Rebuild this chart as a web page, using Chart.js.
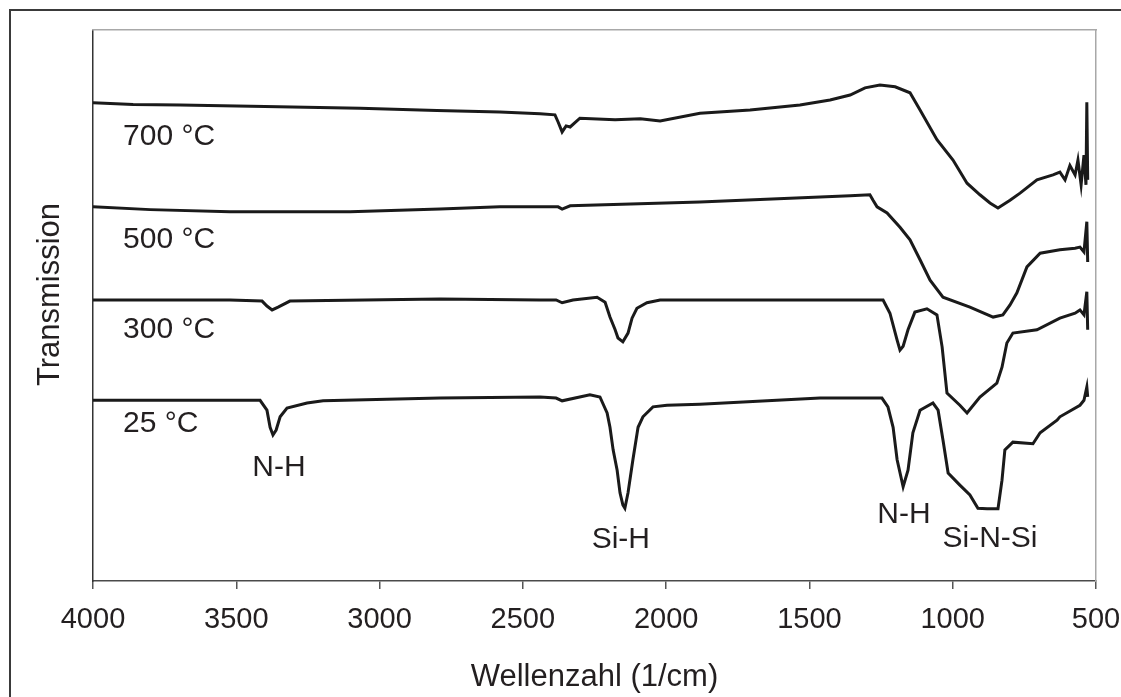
<!DOCTYPE html>
<html>
<head>
<meta charset="utf-8">
<script src="https://cdn.jsdelivr.net/npm/chart.js@4.4.1/dist/chart.umd.min.js"></script>
<style>
  html, body { margin: 0; padding: 0; background: #ffffff; overflow: hidden; }
  #wrap { position: relative; width: 1121px; height: 697px; }
  #frame { position: absolute; left: 9px; top: 9px; width: 2000px; height: 2000px;
           border-left: 2px solid #3a3a3a; border-top: 2px solid #3a3a3a; pointer-events: none; }
  canvas { position: absolute; left: 0; top: 0; }
</style>
</head>
<body>
<div id="wrap">
  <div id="frame"></div>
  <canvas id="c" width="1121" height="697"></canvas>
</div>
<script>
// ---- data (wavenumber in 1/cm, transmission in arbitrary units) ----
const sampleNames = ['25 °C', '300 °C', '500 °C', '700 °C'];

const wn700 = [4000, 3860, 3696, 3400, 3068, 2800, 2580, 2440, 2388, 2377, 2363, 2349, 2335, 2301, 2178, 2090, 2021, 1882, 1707, 1533, 1428, 1358, 1306, 1254, 1201, 1149, 1114, 1055, 999, 950, 905, 870, 842, 800, 765, 706, 650, 626, 608, 591, 573, 563, 552, 542, 535, 532, 529];
const tr700 = [86.8, 86.5, 86.4, 86.1, 85.8, 85.4, 85.1, 84.8, 84.6, 83.3, 81.5, 82.6, 82.4, 84.0, 83.7, 83.9, 83.5, 84.9, 85.5, 86.4, 87.3, 88.2, 89.5, 90.0, 89.7, 88.6, 85.5, 80.1, 76.4, 72.2, 70.1, 68.6, 67.7, 69.1, 70.4, 72.8, 73.7, 74.2, 72.8, 75.4, 73.7, 76.4, 71.9, 77.3, 71.9, 86.9, 72.8];

const wn500 = [4000, 3800, 3522, 3103, 2789, 2580, 2377, 2363, 2335, 1882, 1358, 1289, 1278, 1264, 1229, 1184, 1149, 1114, 1079, 1034, 940, 859, 825, 800, 776, 741, 695, 626, 573, 556, 542, 532, 529];
const tr500 = [67.9, 67.4, 67.0, 67.0, 67.5, 67.9, 67.9, 67.5, 68.1, 68.8, 69.9, 70.1, 69.1, 67.9, 66.8, 64.2, 61.9, 58.3, 54.6, 51.5, 49.7, 47.9, 48.3, 50.1, 52.3, 57.0, 59.5, 60.1, 60.4, 60.6, 59.7, 65.2, 57.9];

const wn300 = [4000, 3522, 3410, 3393, 3375, 3354, 3313, 2789, 2440, 2384, 2363, 2325, 2241, 2213, 2196, 2178, 2168, 2151, 2133, 2119, 2102, 2067, 2021, 1882, 1463, 1243, 1219, 1194, 1184, 1173, 1156, 1132, 1090, 1055, 1037, 1020, 975, 950, 905, 846, 828, 811, 790, 706, 626, 573, 556, 542, 532, 529];
const tr300 = [51.0, 51.0, 50.8, 49.9, 49.2, 49.7, 50.8, 51.2, 51.0, 51.0, 50.5, 51.0, 51.5, 50.6, 47.9, 45.6, 44.1, 43.4, 45.0, 47.7, 49.5, 50.5, 51.0, 51.0, 51.0, 51.0, 48.6, 43.7, 41.9, 42.6, 45.6, 48.8, 49.4, 48.3, 42.5, 34.1, 31.9, 30.5, 33.4, 35.9, 38.8, 43.2, 45.0, 45.6, 47.7, 48.6, 49.2, 48.3, 52.5, 45.6];

const wn25 = [4000, 3417, 3393, 3382, 3372, 3361, 3347, 3323, 3253, 3197, 2789, 2440, 2384, 2363, 2266, 2231, 2206, 2196, 2185, 2171, 2161, 2151, 2144, 2133, 2116, 2098, 2081, 2046, 1997, 1882, 1463, 1247, 1226, 1208, 1194, 1173, 1156, 1139, 1114, 1069, 1051, 1034, 1016, 975, 940, 912, 880, 842, 828, 818, 790, 720, 695, 636, 626, 556, 542, 532, 529];
const tr25 = [32.8, 32.8, 31.0, 27.9, 26.5, 27.4, 29.8, 31.4, 32.3, 32.7, 33.2, 33.4, 33.2, 32.7, 33.8, 33.4, 30.5, 27.9, 23.8, 20.1, 16.0, 13.8, 13.2, 16.0, 22.0, 27.9, 29.8, 31.6, 31.9, 32.1, 33.2, 33.2, 31.6, 27.9, 22.0, 17.1, 20.1, 26.9, 31.0, 32.3, 31.0, 25.6, 19.6, 17.4, 15.6, 13.2, 13.1, 13.1, 18.3, 23.8, 25.2, 24.9, 26.9, 29.2, 29.8, 31.9, 32.8, 35.2, 33.4];

// label anchors (data units)
const sampleLabelWn = [3895, 3895, 3895, 3895];
const sampleLabelTr = [28.5, 45.6, 61.9, 80.6];
const bandNames = ['N-H', 'Si-H', 'N-H', 'Si-N-Si'];
const bandWn = [3351, 2158, 1170, 870];
const bandTr = [20.6, 7.4, 12.0, 7.6];

const xTicks = [4000, 3500, 3000, 2500, 2000, 1500, 1000, 500];
const xTitle = 'Wellenzahl (1/cm)';
const yTitle = 'Transmission';

// ---- build ----
function pts(w, t) { return w.map((v, i) => ({ x: v, y: t[i] })); }
const series = [pts(wn25, tr25), pts(wn300, tr300), pts(wn500, tr500), pts(wn700, tr700)];

const TEXT = '#231f20';
const FONT = '"Liberation Sans", Arial, Helvetica, sans-serif';

const labelPlugin = {
  id: 'labels',
  afterDraw(chart) {
    const ctx = chart.ctx, xs = chart.scales.x, ys = chart.scales.y;
    ctx.save();
    ctx.fillStyle = TEXT;
    ctx.font = '30px ' + FONT;
    ctx.textBaseline = 'middle';
    ctx.textAlign = 'left';
    sampleNames.forEach((n, i) => {
      ctx.fillText(n, xs.getPixelForValue(sampleLabelWn[i]), ys.getPixelForValue(sampleLabelTr[i]));
    });
    ctx.textAlign = 'center';
    bandNames.forEach((n, i) => {
      ctx.fillText(n, xs.getPixelForValue(bandWn[i]), ys.getPixelForValue(bandTr[i]));
    });
    // y-axis title
    ctx.font = '31px ' + FONT;
    ctx.translate(50, 294.5);
    ctx.rotate(-Math.PI / 2);
    ctx.fillText(yTitle, 0, 0);
    ctx.restore();
  }
};

function noPad(s) { s.paddingLeft = 0; s.paddingRight = 0; s.paddingTop = 0; s.paddingBottom = 0; }

new Chart(document.getElementById('c'), {
  type: 'line',
  data: {
    datasets: series.map((d, i) => ({
      label: sampleNames[i],
      data: d,
      borderColor: '#1a1a1a',
      borderWidth: 3,
      pointRadius: 0,
      tension: 0,
      fill: false
    }))
  },
  options: {
    responsive: false,
    animation: false,
    events: [],
    layout: { padding: 0 },
    plugins: { legend: { display: false }, tooltip: { enabled: false } },
    scales: {
      x: {
        type: 'linear', position: 'bottom', reverse: true, min: 500, max: 4000,
        afterBuildTicks: (s) => { s.ticks = xTicks.map(v => ({ value: v })); },
        ticks: { color: TEXT, font: { size: 29, family: FONT }, padding: 14, maxRotation: 0,
                 callback: (v) => String(v) },
        grid: { drawOnChartArea: false, drawTicks: true, tickLength: 8, color: '#555555', lineWidth: 1.5 },
        border: { display: true, color: '#4a4a4a', width: 1.5 },
        title: { display: true, text: xTitle, color: TEXT, font: { size: 31, family: FONT },
                 padding: { top: 0, bottom: 1 } },
        afterFit: (s) => { s.height = 116; noPad(s); }
      },
      y: {
        type: 'linear', position: 'left', min: 0, max: 100,
        ticks: { display: false },
        grid: { display: false, drawTicks: false },
        border: { display: true, color: '#333333', width: 1.5 },
        afterFit: (s) => { s.width = 93; noPad(s); }
      },
      x2: {
        type: 'linear', position: 'top', min: 500, max: 4000, reverse: true,
        ticks: { display: false },
        grid: { display: false, drawTicks: false },
        border: { display: true, color: '#a8a8a8', width: 1.5 },
        afterFit: (s) => { s.height = 30; noPad(s); }
      },
      y2: {
        type: 'linear', position: 'right', min: 0, max: 100,
        ticks: { display: false },
        grid: { display: false, drawTicks: false },
        border: { display: true, color: '#a8a8a8', width: 1.5 },
        afterFit: (s) => { s.width = 25; noPad(s); }
      }
    }
  },
  plugins: [labelPlugin]
});
</script>
</body>
</html>
